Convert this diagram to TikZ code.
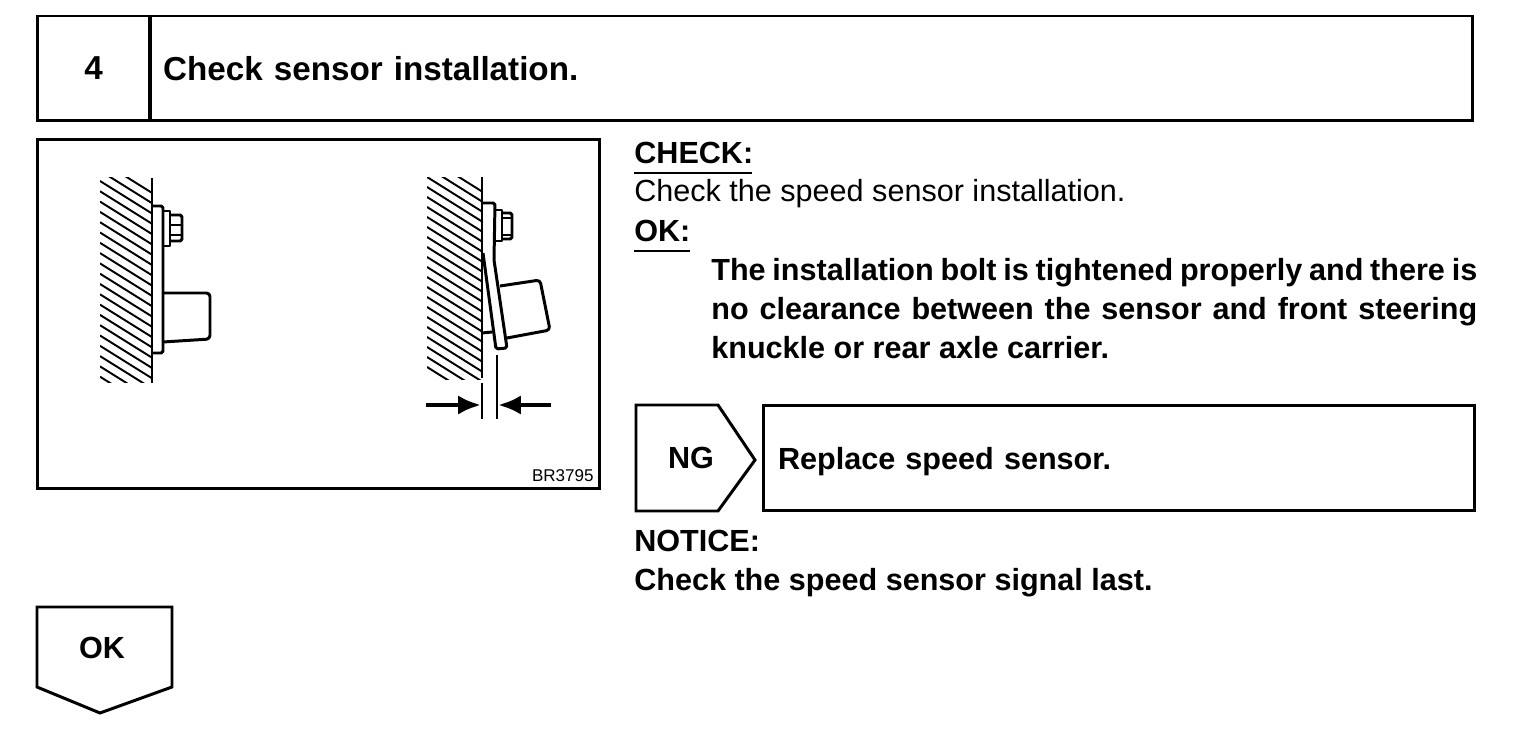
\documentclass[tikz,border=0pt]{standalone}
\usepackage{fontspec}
\setmainfont{Liberation Sans}
\usetikzlibrary{arrows.meta}

\tikzset{
    frame/.style={draw, rectangle, line width=1.7pt, inner sep=0pt, outer sep=0pt},
    ink/.style={line width=1.7pt, line join=round},
    hatch/.style={line width=1.1pt},
    bigbold/.style={font=\fontsize{18.9pt}{22pt}\selectfont\bfseries},
    bodybold/.style={font=\fontsize{17.4pt}{22.1pt}\selectfont\bfseries},
    bodyplain/.style={font=\fontsize{17.4pt}{22.1pt}\selectfont},
    dimarrow/.style={-{Latex[length=13pt,width=11pt]}, line width=2.6pt}
}

\begin{document}
\begin{tikzpicture}[x=0.02cm, y=-0.02cm]
        \useasboundingbox (0,0) rectangle (1536,736);

        % Header
        \node[frame, bigbold, minimum width=2.26cm, minimum height=2.1cm] (stepnum) at (93.5,68.5) {4};
        \node[frame, bigbold, text width=25.94cm, minimum height=2.1cm, inner xsep=0.26cm, align=left] (steptitle) at (811.5,68.5) {Check sensor installation.};

        % Figure frame
        \node[frame, minimum width=11.26cm, minimum height=7cm] (figbox) at (318.5,314) {};
        \node[font=\fontsize{9.7pt}{11pt}\selectfont, inner sep=0pt, anchor=east] (figcode) at (594,476) {BR3795};

        % Left sensor
        \begin{scope}
            \clip (100,178) rectangle (152,383);
            \foreach \k in {-2,...,19}
                \draw[hatch] (100,181+10.3*\k) -- (152,213.5+10.3*\k);
        \end{scope}
        \draw[ink] (152,178) -- (152,383);
        \draw[ink, rounded corners=1pt] (152,206) -- (163,206) -- (163,353) -- (152,353);
        \draw[ink] (163,211) -- (170,211) -- (170,246) -- (163,246);
        \draw[ink, rounded corners=1pt] (170,215) -- (182,215) -- (182,241) -- (170,241);
        \draw[ink] (170,225) -- (182,225) (170,235) -- (182,235);
        \draw[ink, rounded corners=2pt] (163,293) -- (210,293) -- (210,339) -- (163,342);

        % Right sensor
        \begin{scope}
            \clip (427,178) rectangle (482,380);
            \foreach \k in {-3,...,18}
                \draw[hatch] (427,187+10*\k) -- (482,221.5+10*\k);
        \end{scope}
        \draw[ink] (482,177) -- (482,378);
        \draw[ink, rounded corners=1pt] (482,203) -- (495,203) -- (494,260) -- (507,348) -- (496,349) -- (483,253);
        \draw[ink] (482,333) -- (492,332);
        \draw[ink] (495,210) -- (502,210) -- (502,241) -- (494,241);
        \draw[ink, rounded corners=1pt] (502,213) -- (512,213) -- (512,239) -- (502,239);
        \draw[ink] (502,218) -- (512,218) (502,235) -- (512,235);
        \draw[ink, rounded corners=2pt] (500,286) -- (540,280) -- (550,330) -- (507,338);

        % Clearance marks
        \coordinate (gapleft) at (481,405);
        \coordinate (gapright) at (498,405);
        \coordinate (arrowleft) at (426,405);
        \coordinate (arrowright) at (551,405);
        \draw[ink] (482,383) -- (482,419);
        \draw[ink] (497,355) -- (497,419);
        \draw[dimarrow] (arrowleft) -- (gapleft);
        \draw[dimarrow] (arrowright) -- (gapright);

        % Check text
        \node[bodybold, inner sep=0pt, anchor=base west] (checkhead) at (634,164) {CHECK:};
        \draw[line width=0.8pt] (634,173) -- (752,173);
        \node[bodyplain, inner sep=0pt, anchor=base west] (checkline) at (634,202) {Check the speed sensor installation.};
        \node[bodybold, inner sep=0pt, anchor=base west] (okhead) at (634,242) {OK:};
        \draw[line width=0.8pt] (634,251) -- (690,251);
        \node[bodybold, inner sep=0pt, text width=15.32cm, align=justify, anchor=north west] (okbody) at (711,258)
            {The installation bolt is tightened properly and there is\linebreak no clearance between the sensor and front steering\linebreak knuckle or rear axle carrier.};

        % NG branch
        \draw[frame] (636,405) -- (718,405) -- (755,460) -- (718,511) -- (636,511) -- cycle;
        \node[bodybold] (nglabel) at (691,458) {NG};
        \node[frame, bodybold, text width=13.64cm, minimum height=2.12cm, inner xsep=0.3cm, text depth=0pt, align=left] (ngbox) at (1119,458) {Replace speed sensor.};

        % Notice
        \node[bodybold, inner sep=0pt, anchor=base west] (noticehead) at (634,552) {NOTICE:};
        \node[bodybold, inner sep=0pt, anchor=base west] (noticeline) at (634,591) {Check the speed sensor signal last.};

        % OK branch
        \draw[frame] (37,607) -- (172,607) -- (172,687) -- (100,713) -- (37,687) -- cycle;
        \node[bodybold] (oklabel) at (102,648) {OK};
\end{tikzpicture}
\end{document}
